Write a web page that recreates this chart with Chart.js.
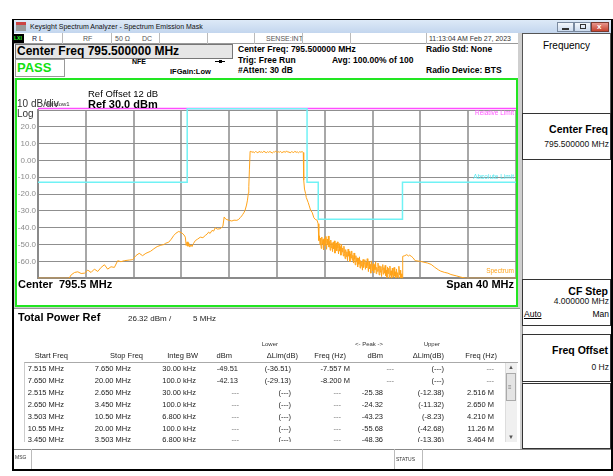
<!DOCTYPE html>
<html>
<head>
<meta charset="utf-8">
<script src="https://cdn.jsdelivr.net/npm/chart.js@4.4.1/dist/chart.umd.min.js"></script>
<style>
  body { margin:0; width:613px; height:476px; background:#fff; position:relative; overflow:hidden;
         font-family:"Liberation Sans", Arial, sans-serif; color:#000; }
  .b { position:absolute; box-sizing:border-box; }
  .t { position:absolute; white-space:nowrap; line-height:1; }
  .bold { font-weight:bold; }
  #plotWrap { position:absolute; left:15px; top:80px; width:503px; height:205px; }
</style>
</head>
<body>

<!-- window frame -->
<div class="b" style="left:12px;top:19px;width:601px;height:452px;background:#000"></div>
<div class="b" style="left:14px;top:33px;width:597px;height:436px;background:#cfcfcf"></div>

<!-- title bar -->
<div class="b" style="left:14px;top:20px;width:597px;height:13px;background:linear-gradient(#dde9f7,#c3d6ee)"></div>
<div class="b" style="left:16px;top:22px;width:10px;height:9px;background:#9a9a9a;border-top:3px solid #c44"></div>
<div class="t" style="left:30px;top:23px;font-size:7px;color:#111">Keysight Spectrum Analyzer - Spectrum Emission Mask</div>
<div class="b" style="left:557px;top:22px;width:17px;height:10px;background:linear-gradient(#f4f8fc,#cddcef);border:1px solid #7a8aa0"></div>
<div class="b" style="left:562px;top:28px;width:7px;height:2px;background:#333"></div>
<div class="b" style="left:574px;top:22px;width:17px;height:10px;background:linear-gradient(#f4f8fc,#cddcef);border:1px solid #7a8aa0"></div>
<div class="b" style="left:580px;top:24px;width:6px;height:5px;border:1px solid #333"></div>
<div class="b" style="left:591px;top:22px;width:18px;height:10px;background:linear-gradient(#e8958c,#c6432f);border:1px solid #7a3a30"></div>
<div class="t bold" style="left:597px;top:23px;font-size:8px;color:#fff">x</div>

<!-- status row -->
<div class="b" style="left:14px;top:33px;width:504px;height:11px;background:#fff;border-bottom:1px solid #999"></div>
<div class="b" style="left:14px;top:34px;width:10px;height:9px;background:#000"></div>
<div class="t bold" style="left:14px;top:36px;font-size:5px;color:#3f3">LXI</div>
<div class="t" style="left:32px;top:35px;font-size:7px;color:#224">R L</div>
<div class="t" style="left:83px;top:35px;font-size:7px;color:#555">RF</div>
<div class="t" style="left:115px;top:35px;font-size:7px;color:#555">50 Ω</div>
<div class="t" style="left:142px;top:35px;font-size:7px;color:#555">DC</div>
<div class="t" style="left:266px;top:35px;font-size:7px;color:#555">SENSE:INT</div>
<div class="t" style="left:429px;top:35px;font-size:7px;color:#333">11:13:04 AM Feb 27, 2023</div>
<div class="b" style="left:62px;top:33px;width:1px;height:11px;background:#bbb"></div>
<div class="b" style="left:111px;top:33px;width:1px;height:11px;background:#bbb"></div>
<div class="b" style="left:159px;top:33px;width:1px;height:11px;background:#bbb"></div>
<div class="b" style="left:207px;top:33px;width:1px;height:11px;background:#bbb"></div>
<div class="b" style="left:254px;top:33px;width:1px;height:11px;background:#bbb"></div>
<div class="b" style="left:302px;top:33px;width:1px;height:11px;background:#bbb"></div>
<div class="b" style="left:350px;top:33px;width:1px;height:11px;background:#bbb"></div>
<div class="b" style="left:426px;top:33px;width:1px;height:11px;background:#bbb"></div>

<!-- info area -->
<div class="b" style="left:14px;top:44px;width:504px;height:34px;background:#fff"></div>
<div class="b" style="left:15px;top:44px;width:218px;height:15px;background:#e6e6e6;border:1px solid #777"></div>
<div class="t bold" style="left:17px;top:45px;font-size:12px">Center Freq 795.500000 MHz</div>
<div class="b" style="left:15px;top:59px;width:50px;height:18px;background:#fff;border:1px solid #999"></div>
<div class="t bold" style="left:17px;top:61px;font-size:13px;color:#11e011">PASS</div>
<div class="t bold" style="left:132px;top:58px;font-size:7px">NFE</div>
<div class="t bold" style="left:170px;top:68px;font-size:7.5px">IFGain:Low</div>
<div class="b" style="left:215px;top:61px;width:10px;height:1px;background:#000"></div>
<div class="b" style="left:219px;top:60px;width:3px;height:3px;background:#000"></div>
<div class="t bold" style="left:238px;top:45px;font-size:8.5px">Center Freq: 795.500000 MHz</div>
<div class="t bold" style="left:238px;top:56px;font-size:8.5px">Trig: Free Run</div>
<div class="t bold" style="left:238px;top:66px;font-size:8.5px">#Atten: 30 dB</div>
<div class="t bold" style="left:332px;top:56px;font-size:8.5px">Avg: 100.00% of 100</div>
<div class="t bold" style="left:426px;top:45px;font-size:8.5px">Radio Std: None</div>
<div class="t bold" style="left:426px;top:66px;font-size:8.5px">Radio Device: BTS</div>

<!-- plot frame -->
<div class="b" style="left:15px;top:78px;width:503px;height:229px;background:#fff"></div>
<div id="plotWrap"><canvas id="semChart" width="503" height="205"></canvas></div>
<div class="t" style="left:88px;top:89px;font-size:9.5px">Ref Offset 12 dB</div>
<div class="t bold" style="left:88px;top:99px;font-size:11px">Ref 30.0 dBm</div>
<div class="t" style="left:17px;top:99px;font-size:10px;color:#333">10 dB/div</div>
<div class="t" style="left:45px;top:101px;font-size:6px;color:#333">Window1</div>
<div class="t" style="left:17px;top:109px;font-size:10px;color:#333">Log</div>
<div class="t" style="left:440px;top:110px;width:74px;text-align:right;font-size:6.5px;color:#ff55ff">Relative Limit</div>
<div class="t" style="left:440px;top:174px;width:74px;text-align:right;font-size:6.5px;color:#55e8f0">Absolute Limit</div>
<div class="t" style="left:440px;top:268px;width:74px;text-align:right;font-size:6.5px;color:#ffa31a">Spectrum</div>
<div class="t bold" style="left:18px;top:279px;font-size:11px">Center&nbsp; 795.5 MHz</div>
<div class="t bold" style="left:400px;top:279px;width:114px;text-align:right;font-size:11px">Span 40 MHz</div>
<div class="b" style="left:15px;top:78px;width:503px;height:229px;border:2px solid #22e622"></div>

<!-- lower results area -->
<div class="b" style="left:14px;top:308px;width:506px;height:141px;background:#fff;border-top:1px solid #999"></div>
<div class="t bold" style="left:18px;top:312px;font-size:11px">Total Power Ref</div>
<div class="t" style="left:128px;top:315px;font-size:8px;color:#222">26.32 dBm /</div>
<div class="t" style="left:193px;top:315px;font-size:8px;color:#222">5 MHz</div>
<div id="tableHead"></div>
<div class="b" style="left:24px;top:362px;width:494px;height:80px;border-top:1px solid #aaa;border-left:1px solid #ccc;overflow:hidden">
  <div id="tableBody" style="position:absolute;left:-24px;top:-362px;width:520px;height:460px"></div>
</div>
<div class="b" style="left:505px;top:363px;width:12px;height:79px;background:#f0f0f0;border-left:1px solid #ddd"></div>
<div class="t" style="left:508px;top:364px;font-size:6px;color:#555">▲</div>
<div class="b" style="left:506px;top:373px;width:10px;height:28px;background:#e4e4e4;border:1px solid #aaa"></div>
<div class="t" style="left:508px;top:384px;font-size:6px;color:#777">≡</div>
<div class="t" style="left:508px;top:434px;font-size:6px;color:#555">▼</div>

<!-- message bar -->
<div class="b" style="left:14px;top:449px;width:597px;height:20px;background:#fff;border-top:1px solid #888"></div>
<div class="b" style="left:14px;top:449px;width:18px;height:20px;border-right:1px solid #bbb"></div>
<div class="t" style="left:15px;top:455px;font-size:5px;color:#333">MSG</div>
<div class="b" style="left:394px;top:449px;width:29px;height:20px;border-left:1px solid #bbb;border-right:1px solid #bbb"></div>
<div class="t" style="left:396px;top:457px;font-size:5px;color:#333">STATUS</div>

<!-- softkey panel -->
<div class="b" style="left:522px;top:33px;width:89px;height:416px;background:#fff;border-left:1px solid #888"></div>
<div class="b" style="left:522px;top:33px;width:89px;height:80px;border:1px solid #555;border-bottom:none"></div>
<div class="t" style="left:522px;top:41px;width:89px;text-align:center;font-size:10px">Frequency</div>
<div class="b" style="left:522px;top:113px;width:89px;height:47px;border:1px solid #333"></div>
<div class="t bold" style="left:522px;top:124px;width:86px;text-align:right;font-size:10.5px">Center Freq</div>
<div class="t" style="left:522px;top:140px;width:87px;text-align:right;font-size:8.5px;color:#111">795.500000 MHz</div>
<div class="b" style="left:522px;top:279px;width:89px;height:47px;border:1px solid #333"></div>
<div class="t bold" style="left:522px;top:286px;width:86px;text-align:right;font-size:10.5px">CF Step</div>
<div class="t" style="left:522px;top:297px;width:87px;text-align:right;font-size:8.5px;color:#111">4.000000 MHz</div>
<div class="t" style="left:524px;top:310px;font-size:8.5px;text-decoration:underline">Auto</div>
<div class="t" style="left:522px;top:310px;width:87px;text-align:right;font-size:8.5px">Man</div>
<div class="b" style="left:522px;top:334px;width:89px;height:48px;border:1px solid #333"></div>
<div class="t bold" style="left:522px;top:345px;width:86px;text-align:right;font-size:10.5px">Freq Offset</div>
<div class="t" style="left:522px;top:363px;width:87px;text-align:right;font-size:8.5px;color:#111">0 Hz</div>
<div class="b" style="left:522px;top:383px;width:89px;height:66px;border:1px solid #333"></div>

<script>
// frequency axis (MHz) and level axis (dBm)
const freqGrid = [775.5, 779.5, 783.5, 787.5, 791.5, 795.5, 799.5, 803.5, 807.5, 811.5, 815.5];
const levelTicks = [30, 20, 10, 0, -10, -20, -30, -40, -50, -60, -70];

// spectrum trace, lower side up to the carrier edge  [MHz, dBm]
const traceLowerSide = [
  [775.5,-70],[778.1,-70],[778.28,-68],[778.56,-66.6],[778.83,-66.2],[779.11,-67.2],[779.39,-67.0],
  [779.67,-65.2],[779.94,-66.6],[780.22,-64.6],[780.5,-66],[780.78,-63.6],[781.06,-62],[781.33,-64.6],
  [781.61,-63.2],[781.89,-63.6],[782.17,-59.6],[782.44,-60.2],[782.72,-59.6],[783.14,-59.2],[783.42,-59.0],
  [783.69,-56.6],[783.97,-55.2],[784.25,-56.6],[784.53,-55.2],[784.92,-54.0],[785.2,-52.5],[785.47,-51.2],
  [785.78,-50.4],[786.03,-50],[786.19,-49.2],[786.44,-48.6],[786.65,-46.8],[786.86,-44.6],[787.05,-43.2],
  [787.28,-42.2],[787.56,-43.2],[787.72,-44.3],[787.83,-45.6],[787.9,-50.6],[787.98,-48.4],[788.05,-51.0],
  [788.11,-49.0],[788.2,-51.5],[788.3,-50.2],[788.39,-51.2],[788.5,-49.5],[788.67,-47.6],[788.85,-46.8],
  [789.08,-45.6],[789.3,-45.9],[789.5,-44.6],[789.65,-43.8],[789.78,-42.6],[789.9,-43.4],[790.06,-41.6],
  [790.2,-42.0],[790.33,-40.0],[790.5,-40.8],[790.75,-40.6],[790.97,-39.2],[791.08,-33.6],[791.2,-34.8],
  [791.31,-35.2],[791.5,-35.6],[791.72,-36.0],[791.9,-35.5],[792.14,-35.6],[792.3,-35.0],[792.42,-34.0],
  [792.55,-33.0],[792.64,-32.0],[792.75,-30.8],[792.83,-29.6],[792.95,-26.5],[793.03,-23.6],[793.1,-19.5],
  [793.14,-15.6],[793.19,-5.6],[793.25,5.4]
];

// carrier top, sweep points every 0.1 MHz from 793.3 MHz
const carrierStart = 793.3, carrierStep = 0.1;
const carrierTop = [
  5.6,4.8,5.2,4.6,5.3,5.0,4.5,5.4,4.9,5.1,
  4.7,5.5,5.0,4.6,5.2,4.8,5.3,4.9,4.4,5.1,
  5.0,5.6,4.7,5.2,4.9,5.4,4.6,5.0,5.3,4.8,
  5.7,4.9,5.1,4.5,5.2,5.0,4.7,5.5,4.8,5.1,
  4.6,5.2,4.9,5.3,4.7
];

const upperSkirt = [
  [797.72,0.0],[797.75,-11.6],[797.8,-17.0],[797.89,-19.6],[797.95,-22.0],[798.11,-25.0],[798.2,-27.0],
  [798.31,-29.6],[798.45,-31.0],[798.58,-34.0],[798.7,-35.0],[798.86,-35.6],[798.94,-37.6]
];

// noisy upper emission, sweep points every 0.05 MHz from 799.0 MHz
const noiseStart = 799.0, noiseStep = 0.05;
const upperNoise = [
  -47.6,-44.8,-50.2,-46.1,-52.3,-45.5,-49.8,-47.0,-53.1,-46.4,
  -50.6,-45.2,-48.9,-52.8,-46.7,-50.1,-44.9,-51.5,-48.2,-53.4,
  -47.3,-51.9,-49.0,-54.2,-48.6,-52.5,-47.8,-55.1,-50.3,-49.1,
  -53.7,-48.4,-52.0,-55.6,-49.5,-53.9,-51.2,-56.3,-50.0,-54.4,
  -52.1,-56.8,-51.0,-55.2,-58.4,-53.0,-57.1,-54.3,-59.6,-52.7,
  -56.9,-54.1,-60.2,-55.5,-58.0,-53.8,-59.3,-56.4,-61.0,-55.0,
  -58.7,-62.1,-56.6,-60.4,-57.9,-63.3,-58.2,-61.7,-57.3,-64.0,
  -59.5,-62.8,-60.1,-65.2,-58.9,-63.6,-61.3,-59.0,-64.7,-60.6,
  -63.9,-58.4,-62.5,-66.1,-60.2,-64.4,-61.8,-67.0,-59.7,-63.1,
  -65.5,-61.4,-66.8,-62.0,-64.9,-60.3,-67.3,-63.5,-65.9,-61.0,
  -64.2,-68.1,-62.6,-66.4,-63.0,-69.0,-64.8,-61.9,-67.6,-63.7,
  -66.9,-62.4,-68.5,-65.1,-69.6,-63.3,-67.2,-64.1,-70.0,-62.8,
  -68.3,-65.6,-70.0,-64.0,-67.9,-69.4,-63.6,-68.8,-66.2,-70.0,
  -64.5,-69.1,-66.7,-70.0,-62.9,-68.0,-65.3,-70.0,-67.4,-70.0
];

const upperTail = [
  [806.0,-70],[806.02,-57.0],[806.2,-56.6],[806.36,-56.0],[806.5,-56.8],[806.6,-56.3],[806.78,-57.2],
  [806.9,-58.0],[807.06,-59.6],[807.3,-59.8],[807.5,-60.0],[807.8,-60.5],[808.1,-61.0],[808.4,-61.8],
  [808.7,-63.5],[809.0,-65.0],[809.2,-65.8],[809.5,-66.5],[809.8,-67.0],[810.05,-67.8],[810.5,-68.6],
  [810.9,-69.4],[811.3,-70],[815.5,-70]
];

// limit lines [MHz, dBm]
const absoluteLimit = [
  [775.5,-13],[787.985,-13],[787.985,30.8],[798.015,30.8],[798.015,-13],[798.95,-13],
  [798.95,-35],[806.0,-35],[806.0,-13],[815.5,-13]
];
const relativeLimit = [[775.5,30.9],[815.5,30.9]];

// results table
const tableHeader = ['Start Freq','Stop Freq','Integ BW','dBm','\u0394Lim(dB)','Freq (Hz)','dBm','\u0394Lim(dB)','Freq (Hz)'];
const tableRows = [
  ['7.515 MHz','7.650 MHz','30.00 kHz','-49.51','(-36.51)','-7.557 M','---','(---)','---'],
  ['7.650 MHz','20.00 MHz','100.0 kHz','-42.13','(-29.13)','-8.200 M','---','(---)','---'],
  ['2.515 MHz','2.650 MHz','30.00 kHz','---','(---)','---','-25.38','(-12.38)','2.516 M'],
  ['2.650 MHz','3.450 MHz','100.0 kHz','---','(---)','---','-24.32','(-11.32)','2.650 M'],
  ['3.503 MHz','10.50 MHz','6.800 kHz','---','(---)','---','-43.23','(-8.23)','4.210 M'],
  ['10.55 MHz','20.00 MHz','100.0 kHz','---','(---)','---','-55.68','(-42.68)','11.26 M'],
  ['3.450 MHz','3.503 MHz','6.800 kHz','---','(---)','---','-48.36','(-13.36)','3.464 M']
];

const headRight = [68, 143, 198, 232, 298, 346, 383, 444, 497];
const cellRight = [63, 130, 195, 237, 290, 349, 382, 443, 493];
const dashRight = [63, 130, 195, 238, 290, 340, 393, 443, 493];

function txt(parent, s, right, top, size, color) {
  const d = document.createElement('div');
  d.className = 't';
  d.textContent = s;
  d.style.cssText = 'left:' + (right - 80) + 'px;width:80px;text-align:right;top:' + top + 'px;font-size:' + size + 'px;color:' + color;
  parent.appendChild(d);
}
const head = document.getElementById('tableHead');
const body = document.getElementById('tableBody');
txt(head, 'Lower', 278, 341, 6, '#333');
txt(head, '<- Peak ->', 383, 341, 6, '#333');
txt(head, 'Upper', 440, 341, 6, '#333');
tableHeader.forEach((h, i) => txt(head, h, headRight[i], 352, 7.5, '#222'));
tableRows.forEach((row, r) => {
  row.forEach((c, i) => {
    const dash = c === '---';
    txt(body, c, dash ? dashRight[i] : cellRight[i], 364 + r * 11.9, 7.5, dash ? '#777' : '#222');
  });
});

const toPts = arr => arr.map(([x, y]) => ({x, y}));
const spectrum = [
  ...traceLowerSide,
  ...carrierTop.map((v, i) => [carrierStart + i * carrierStep, v]),
  ...upperSkirt,
  ...upperNoise.map((v, i) => [noiseStart + i * noiseStep, v]),
  ...upperTail
];

new Chart(document.getElementById('semChart').getContext('2d'), {
  type: 'line',
  data: {
    datasets: [
      { label: 'Absolute Limit', data: toPts(absoluteLimit), borderColor: '#70f2f5', borderWidth: 1.5, clip: 4 },
      { label: 'Spectrum', data: toPts(spectrum), borderColor: '#ffa31a', borderWidth: 1 },
      { label: 'Relative Limit', data: toPts(relativeLimit), borderColor: '#ff4dff', borderWidth: 1.5, clip: 4 }
    ]
  },
  options: {
    animation: false,
    responsive: false,
    devicePixelRatio: 1,
    layout: { padding: { top: 30, right: 2, bottom: 3, left: 0 } },
    plugins: { legend: { display: false }, tooltip: { enabled: false } },
    elements: { point: { radius: 0 }, line: { tension: 0 } },
    scales: {
      x: {
        type: 'linear', min: 775.5, max: 815.5,
        afterBuildTicks: s => { s.ticks = freqGrid.map(v => ({ value: v })); },
        afterFit: s => { s.height = 0; },
        ticks: { display: false },
        grid: { color: '#a8a8a8', lineWidth: 2, drawTicks: false },
        border: { color: '#8a8a8a', width: 2 }
      },
      y: {
        min: -70, max: 30,
        afterBuildTicks: s => { s.ticks = levelTicks.map(v => ({ value: v })); },
        afterFit: s => { s.width = 23; },
        ticks: {
          callback: v => (v === 30 || v === -70) ? '' : (v === 0 ? '0.00' : v.toFixed(1)),
          color: '#8c8c8c', font: { family: 'Liberation Sans', size: 8 }, padding: 2
        },
        grid: { color: '#8f8f8f', lineWidth: 1, drawTicks: false },
        border: { color: '#8a8a8a', width: 2 }
      }
    }
  }
});
</script>
</body>
</html>
